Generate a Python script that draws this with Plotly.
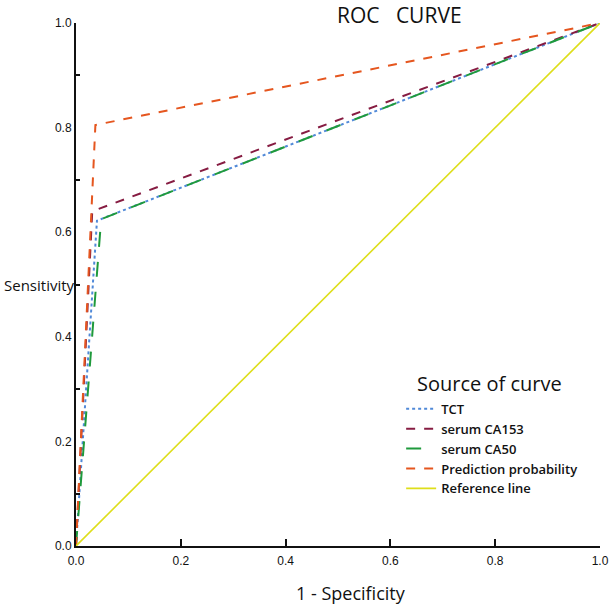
import plotly.graph_objects as go

# Data
names = ["TCT", "serum CA153", "serum CA50", "Prediction probability", "Reference line"]
x_tct = [0.0, 0.040, 1.0]
y_tct = [0.0, 0.622, 1.0]
x_ca153 = [0.0, 0.031, 1.0]
y_ca153 = [0.0, 0.640, 1.0]
x_ca50 = [0.0, 0.048, 1.0]
y_ca50 = [0.0, 0.625, 1.0]
x_pred = [0.0, 0.037, 1.0]
y_pred = [0.0, 0.805, 1.0]
x_ref = [0.0, 1.0]
y_ref = [0.0, 1.0]
tick_vals = [0.0, 0.2, 0.4, 0.6, 0.8, 1.0]
tick_text = ["0.0", "0.2", "0.4", "0.6", "0.8", "1.0"]

series = [
    (x_tct, y_tct, "#5089d8", "dot", 2),
    (x_ca153, y_ca153, "#861c42", "dash", 2),
    (x_ca50, y_ca50, "#1f9a3c", "longdash", 2),
    (x_pred, y_pred, "#e5561f", "dash", 2),
    (x_ref, y_ref, "#dede1a", "solid", 1.6),
]

fig = go.Figure()
for (xs, ys, col, dash, w), nm in zip(series, names):
    fig.add_trace(go.Scatter(x=xs, y=ys, mode="lines", name=nm,
                             line=dict(color=col, dash=dash, width=w)))

fig.update_layout(
    width=614, height=604,
    paper_bgcolor="white", plot_bgcolor="white",
    margin=dict(l=76, r=14, t=23, b=58),
    title=dict(text="ROC   CURVE", xref="container", x=337 / 614, xanchor="left",
               yref="container", y=1 - 16 / 604, yanchor="middle",
               font=dict(family="Open Sans", size=21, color="#111")),
    legend=dict(
        x=0.6205, y=0.291, xanchor="left", yanchor="top",
        font=dict(family="Open Sans", size=13, color="#111", weight=600),
        bgcolor="rgba(0,0,0,0)", tracegroupgap=0, itemwidth=30,
    ),
    font=dict(family="Liberation Sans", color="#222"),
)

fig.update_xaxes(
    range=[0, 1.0], tickvals=tick_vals, ticktext=tick_text, automargin=False,
    showgrid=False, zeroline=False, showline=True, linecolor="#111", linewidth=2,
    ticks="inside", ticklen=7, tickcolor="#111", tickwidth=1.5, ticklabelstandoff=3,
    tickfont=dict(size=12, family="Liberation Sans", color="#111"),
    title=None,
)
fig.update_yaxes(
    range=[0, 1.0], tickvals=tick_vals, ticktext=tick_text, automargin=False,
    showgrid=False, zeroline=False, showline=True, linecolor="#111", linewidth=2,
    ticks="", tickfont=dict(size=12, family="Liberation Sans", color="#111"),
    minor=dict(tickvals=[0.1, 0.3, 0.5, 0.7, 0.9], ticks="inside", ticklen=4,
               tickcolor="#111", tickwidth=1.5),
    title=None,
)
fig.add_annotation(text="Sensitivity", xref="paper", yref="paper", x=-74 / 524, y=0.5,
                   xanchor="left", yanchor="middle", showarrow=False,
                   font=dict(family="Open Sans", size=15, color="#111", weight=500))
fig.add_annotation(text="1 - Specificity", xref="paper", yref="paper", x=275 / 524, y=-47 / 523,
                   xanchor="center", yanchor="middle", showarrow=False,
                   font=dict(family="Open Sans", size=18, color="#111", weight=500))
fig.add_annotation(text="Source of curve", xref="paper", yref="paper", x=339 / 524, y=163 / 523,
                   xanchor="left", yanchor="middle", showarrow=False,
                   font=dict(family="Open Sans", size=20, color="#111"))

post = ("document.body.style.margin='0';document.body.style.overflow='hidden';"
        "Plotly.Plots.resize(document.getElementById('{plot_id}'));")
fig.write_html("out.html", post_script=post, config={"displayModeBar": False})
